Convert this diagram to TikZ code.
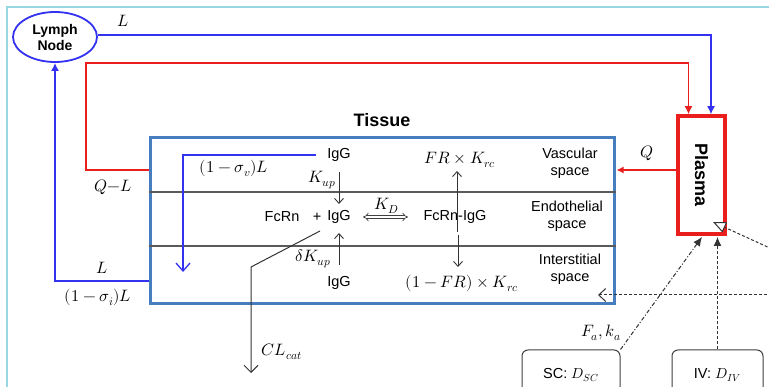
\documentclass[tikz,border=0pt]{standalone}
\usepackage{fontspec}
\usepackage{unicode-math}
\setmainfont{Liberation Sans}
\setmathfont{Latin Modern Math}
\usetikzlibrary{arrows.meta,shapes.geometric}
\definecolor{lblue}{RGB}{50,50,240}
\definecolor{lred}{RGB}{235,30,30}
\definecolor{tblue}{RGB}{70,125,190}
\definecolor{sepgray}{RGB}{90,90,90}
\definecolor{framecyan}{RGB}{150,215,225}
\tikzset{
  bluel/.style={draw=lblue,line width=1.5pt},
  redl/.style={draw=lred,line width=1.8pt},
  lbl/.style={font=\fontsize{16.5}{18}\selectfont,inner sep=1pt},
  txt/.style={font=\fontsize{14.5}{17}\selectfont,inner sep=2pt},
  thinarr/.style={draw=black!80,line width=0.9pt,-{Straight Barb[length=5pt,width=9pt]}},
  dashl/.style={draw=black!80,line width=1pt,dash pattern=on 3pt off 2pt},
  ddl/.style={draw=black!80,line width=1pt,dash pattern=on 4pt off 2pt on 1pt off 2pt},
  doseb/.style={draw=black!75,line width=1pt,rounded corners=6pt,font=\fontsize{14.5}{17}\selectfont},
}
\begin{document}
\begin{tikzpicture}[x=1pt,y=-1pt]
\useasboundingbox (0,0) rectangle (769,387);
\clip (0,0) rectangle (769,387);
\fill[white] (0,0) rectangle (769,387);
% frame
\draw[framecyan,line width=1.2pt] (7,390) -- (7,7) -- (772,7);

% main nodes
\node[ellipse,draw=lblue,line width=1.8pt,minimum width=84pt,minimum height=50pt,inner sep=0pt,
      align=center,font=\bfseries\fontsize{14}{16}\selectfont] (lymph) at (55,37) {Lymph\\Node};
\node[draw=tblue,line width=3pt,minimum width=464pt,minimum height=166pt,inner sep=0pt] (tissue) at (382,221) {};
\node[draw=lred,line width=3.5pt,minimum width=47pt,minimum height=118pt,inner sep=0pt] (plasma) at (701.5,175) {};
\node[rotate=-90,font=\bfseries\fontsize{18}{20}\selectfont] (plasmatxt) at (plasma.center) {Plasma};
\node[font=\bfseries\fontsize{18}{20}\selectfont] (tissuetxt) at (382,120) {Tissue};

% separators inside tissue
\draw[sepgray,line width=1.6pt] ([yshift=29pt]tissue.west) -- ([yshift=29pt]tissue.east);
\draw[sepgray,line width=1.6pt] ([yshift=-25pt]tissue.west) -- ([yshift=-25pt]tissue.east);

% space labels
\node[txt,align=center] (vasc) at (570,163) {Vascular\\space};
\node[txt,align=center] (endo) at (567,216) {Endothelial\\space};
\node[txt,align=center] (inter) at (570,269) {Interstitial\\space};

% dose boxes
\node[doseb,minimum width=98pt,minimum height=50pt] (sc) at (571,375) {SC: $D_{SC}$};
\node[doseb,minimum width=91pt,minimum height=50pt] (iv) at (717.5,375) {IV: $D_{IV}$};

% outer blue and red flows
\draw[bluel,-{Latex[length=8pt,width=8pt]}] (lymph.east |- 0,35) -| ([xshift=9.5pt]plasma.north);
\node[lbl] (lL) at (123,21) {$L$};
\coordinate (rc1) at (86,63);
\draw[redl,-{Latex[length=8pt,width=8pt]}] ([yshift=51pt]tissue.west) -| (rc1) -| ([xshift=-13pt]plasma.north);
\node[lbl] (lQL) at (113,187) {$Q{-}L$};
\draw[bluel,-{Latex[length=8pt,width=8pt]}] ([yshift=-60pt]tissue.west) -| (lymph.south);
\node[lbl] (lL2) at (102,268) {$L$};
\node[lbl] (lsi) at (98,297) {$(1-\sigma_i)L$};

% Q arrow
\draw[redl,line width=1.5pt,-{Latex[length=7pt,width=7pt]}] ([yshift=5pt]plasma.west) -- ([yshift=51pt,xshift=1pt]tissue.east);
\node[lbl] (lQ) at (647,153) {$Q$};

% tissue interior
\node[txt] (igg1) at (339,155) {IgG};
\node[txt] (fcrn) at (282,217) {FcRn};
\node[txt] (plus) at (317,217) {+};
\node[txt] (igg2) at (339,217) {IgG};
\node[txt] (cplx) at (455,217) {FcRn-IgG};
\node[txt] (igg3) at (339,283) {IgG};
\node[lbl] (fr) at (460,160) {$FR\times K_{rc}$};
\node[lbl] (fr2) at (462,283) {$(1-FR)\times K_{rc}$};

\coordinate (bv1) at (183,155);
\coordinate (bv2) at (183,272);
\draw[draw=lblue,line width=1.3pt,-{Straight Barb[length=8pt,width=14pt]}] ([xshift=-9pt]igg1.west) -- (bv1) -- (bv2);
\node[lbl] (lsv) at (234,168) {$(1-\sigma_v)L$};

\draw[thinarr] ([yshift=-17pt]igg1.center) -- ([yshift=13pt]igg2.center);
\node[lbl] (lkup) at (322,180) {$K_{up}$};
\draw[thinarr] ([yshift=-48pt]igg2.center) -- ([yshift=-16pt]igg2.center);
\node[lbl] (ldk) at (313,259) {$\delta K_{up}$};

\draw[black!75,double,double distance=2.2pt,line width=0.7pt,{Implies}-{Implies}] (363,217) -- (408,217);
\node[lbl] (lkd) at (387,206) {$K_D$};

\draw[thinarr] ([xshift=2pt,yshift=-15pt]cplx.center) -- (457,171);
\draw[thinarr] ([xshift=3pt,yshift=-18pt]cplx.center) -- ([xshift=3pt,yshift=-50pt]cplx.center);

\coordinate (cl1) at (320,231);
\coordinate (cl2) at (251,267);
\coordinate (cl3) at (251,373);
\draw[black!80,line width=1pt,-{Straight Barb[length=7pt,width=14pt]}] (cl1) -- (cl2) -- (cl3);
\node[lbl] (lcl) at (282,352) {$CL_{cat}$};

% dashed inputs
\coordinate (d1) at (772,249);
\coordinate (d1t) at (713,222);
\draw[dashl,-{Triangle[open,fill=white,length=13pt,width=11pt]}] (d1) -- (d1t);
\coordinate (d2) at (772,295);
\coordinate (d2t) at (598,295);
\draw[dashl,-{Straight Barb[length=7pt,width=13pt]}] (d2) -- (d2t);
\coordinate (sct) at (702,237);
\draw[ddl,-{Latex[length=9pt,width=8pt]}] (sc.north east) -- (sct);
\draw[dashl,-{Latex[length=9pt,width=8pt]}] (iv.north) -- (iv.north |- 0,237);
\node[lbl] (lfa) at (601,333) {$F_a, k_a$};
\end{tikzpicture}
\end{document}
